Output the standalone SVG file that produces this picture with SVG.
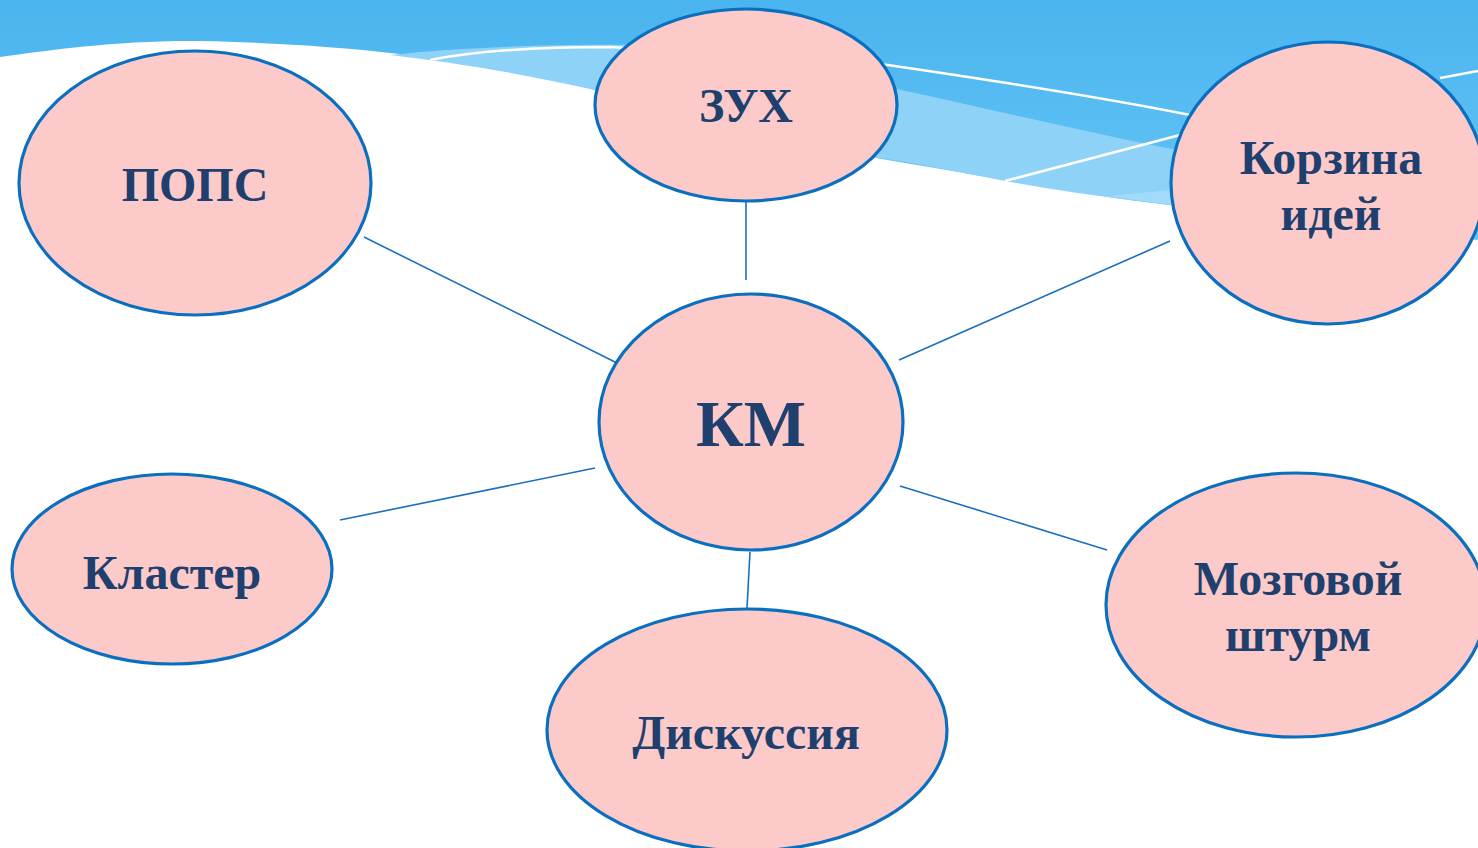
<svg xmlns="http://www.w3.org/2000/svg" width="1478" height="848" viewBox="0 0 1478 848">
<defs>
<linearGradient id="bg" x1="0" y1="0" x2="0" y2="1">
<stop offset="0" stop-color="#4ab4ee"/>
<stop offset="1" stop-color="#66c6f7"/>
</linearGradient>
<style>
.node ellipse{fill:#fccac9;stroke:#0b6fc0;stroke-width:3.2}
.node text{font-family:"Liberation Serif","Times New Roman",serif;font-weight:bold;fill:#1f3f6e;text-anchor:middle;font-size:48px}
#connectors line{stroke:#1a6fbf;stroke-width:1.6}
</style>
</defs>
<rect width="1478" height="848" fill="#ffffff"/>
<g id="background">
<path d="M0,0 H1478 V240 L1478,240 C1380,230 1250,215 1170,205 C1080,195 980,175 870,157 C760,130 650,100 595,90 C500,65 380,45 200,41 C120,40 50,50 0,57 Z" fill="url(#bg)"/>
<path d="M390,55 C460,47 560,44 640,45 C760,60 880,84 1000,112 C1080,130 1150,145 1250,165 L1250,215 C1170,205 1080,195 1005,181 C960,172 900,160 870,157 C760,130 650,100 595,90 C520,73 450,62 390,55 Z" fill="#8ed2f8"/>
<path d="M1110,196 C1170,190 1220,185 1260,180 L1260,215 C1200,209 1150,202 1110,196 Z" fill="#a2dbfa"/>
<path d="M430,60 C480,50 540,47 610,47 C700,52 800,58 888,65 C990,80 1100,97 1190,115" fill="none" stroke="#ffffff" stroke-width="2.5"/>
<path d="M1440,78 L1478,71" fill="none" stroke="#ffffff" stroke-width="2.5"/>
<path d="M1005,181 L1180,135" fill="none" stroke="#ffffff" stroke-width="2.5"/>
</g>
<g id="connectors">
<line x1="364" y1="237" x2="619" y2="364"/>
<line x1="746" y1="200" x2="746" y2="280"/>
<line x1="1170" y1="241" x2="899" y2="360"/>
<line x1="340" y1="520" x2="595" y2="468"/>
<line x1="750" y1="552" x2="747" y2="608"/>
<line x1="900" y1="486" x2="1107" y2="550"/>
</g>
<g id="node-pops" class="node">
<ellipse cx="195" cy="183" rx="176" ry="132"/>
<text x="195" y="201">ПОПС</text>
</g>
<g id="node-zuh" class="node">
<ellipse cx="746" cy="105" rx="151" ry="96"/>
<text x="746" y="122">ЗУХ</text>
</g>
<g id="node-korzina" class="node">
<ellipse cx="1328" cy="183" rx="157" ry="141"/>
<text x="1331" y="174">Корзина</text>
<text x="1331" y="230">идей</text>
</g>
<g id="node-km" class="node">
<ellipse cx="751" cy="422" rx="152" ry="128"/>
<text x="751" y="446" style="font-size:66px">КМ</text>
</g>
<g id="node-klaster" class="node">
<ellipse cx="172" cy="569" rx="160" ry="95"/>
<text x="172" y="589">Кластер</text>
</g>
<g id="node-diskussiya" class="node">
<ellipse cx="747" cy="730" rx="200" ry="121"/>
<text x="746" y="749">Дискуссия</text>
</g>
<g id="node-mozgovoy" class="node">
<ellipse cx="1296" cy="605" rx="190" ry="132"/>
<text x="1298" y="595">Мозговой</text>
<text x="1298" y="651">штурм</text>
</g>
</svg>
